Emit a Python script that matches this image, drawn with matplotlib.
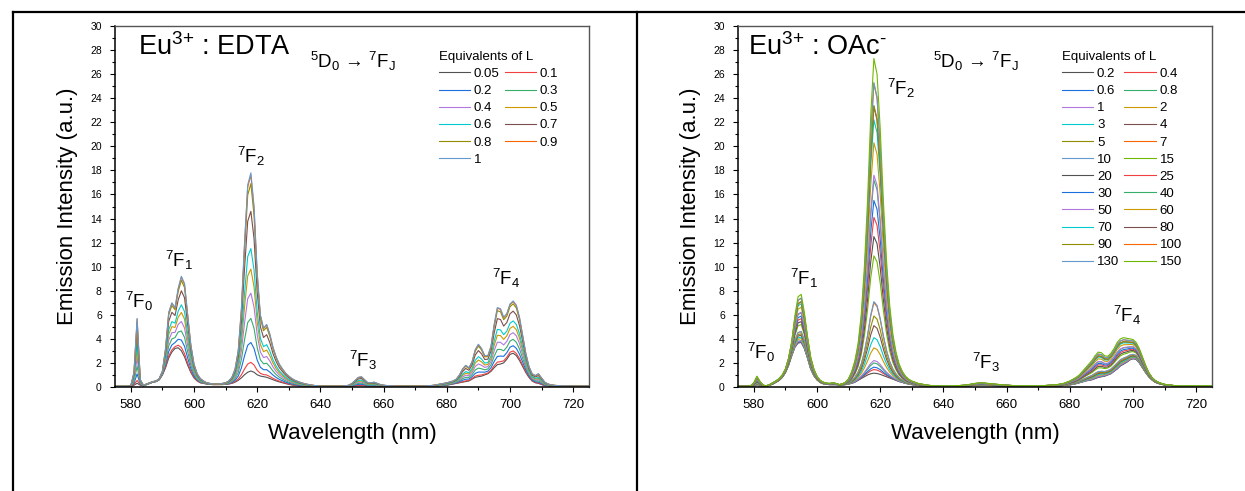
import numpy as np
import matplotlib
matplotlib.use("Agg")
from matplotlib import pyplot as plt
from matplotlib.lines import Line2D
from matplotlib.ticker import MultipleLocator

plt.rcParams.update({
    "font.family": ["Liberation Sans", "DejaVu Sans"],
    "mathtext.fontset": "custom",
    "mathtext.rm": "Liberation Sans",
    "mathtext.it": "Liberation Sans:italic",
    "mathtext.bf": "Liberation Sans:bold",
})

# Origin "Bright" palette, cycled over the series
colors = ["#515151", "#F14040", "#1A6FDF", "#37AD6B", "#B177DE", "#CC9900",
          "#00CBCC", "#7D4E4E", "#8E8E00", "#FB6501", "#6699CC", "#6FB802"]

wavelength = np.arange(575, 726)  # nm, 1 nm step

# ---- Eu3+ : EDTA, spectra of lowest (0.05 eq) and highest (1 eq) titration points
edta_low = [
    0.05, 0.05, 0.05, 0.05, 0.05, 0.05, 0.15, 0.30, 0.15, 0.10,
    0.20, 0.30, 0.40, 0.45, 0.60, 1.00, 1.60, 2.40, 2.90, 3.20,
    3.25, 3.00, 2.50, 1.80, 1.20, 0.75, 0.50, 0.35, 0.30, 0.25,
    0.22, 0.20, 0.20, 0.20, 0.20, 0.22, 0.25, 0.30, 0.40, 0.55,
    0.75, 1.00, 1.20, 1.30, 1.20, 1.00, 0.90, 0.85, 0.80, 0.70,
    0.60, 0.50, 0.42, 0.35, 0.28, 0.22, 0.17, 0.13, 0.10, 0.08,
    0.06, 0.05, 0.05, 0.05, 0.05, 0.05, 0.05, 0.05, 0.05, 0.05,
    0.05, 0.05, 0.05, 0.05, 0.06, 0.08, 0.10, 0.12, 0.12, 0.10,
    0.08, 0.08, 0.08, 0.07, 0.06, 0.05, 0.05, 0.05, 0.05, 0.05,
    0.05, 0.05, 0.05, 0.05, 0.05, 0.05, 0.05, 0.05, 0.05, 0.05,
    0.06, 0.07, 0.08, 0.10, 0.12, 0.15, 0.20, 0.25, 0.30, 0.35,
    0.40, 0.45, 0.50, 0.65, 0.80, 0.85, 0.90, 1.00, 1.10, 1.30,
    1.60, 1.85, 1.90, 2.00, 2.30, 2.70, 2.80, 2.60, 2.20, 1.70,
    1.20, 0.80, 0.50, 0.35, 0.30, 0.20, 0.12, 0.10, 0.08, 0.07,
    0.06, 0.06, 0.06, 0.06, 0.06, 0.06, 0.06, 0.06, 0.06, 0.06, 0.06,
]
edta_high = [
    0.05, 0.05, 0.05, 0.05, 0.05, 0.10, 1.20, 5.70, 0.60, 0.15,
    0.25, 0.35, 0.45, 0.50, 0.70, 1.30, 3.20, 6.20, 7.00, 6.60,
    8.20, 9.20, 8.60, 6.00, 3.50, 1.90, 1.10, 0.70, 0.50, 0.35,
    0.30, 0.25, 0.25, 0.25, 0.30, 0.35, 0.50, 0.80, 1.50, 3.00,
    6.50, 12.00, 16.80, 17.80, 15.00, 9.50, 6.00, 4.90, 5.20, 4.40,
    3.30, 2.50, 1.90, 1.50, 1.15, 0.90, 0.70, 0.55, 0.45, 0.35,
    0.28, 0.22, 0.17, 0.13, 0.10, 0.08, 0.07, 0.06, 0.06, 0.06,
    0.06, 0.07, 0.08, 0.10, 0.15, 0.30, 0.55, 0.80, 0.85, 0.60,
    0.35, 0.35, 0.40, 0.30, 0.20, 0.15, 0.12, 0.10, 0.09, 0.08,
    0.07, 0.07, 0.06, 0.06, 0.06, 0.06, 0.06, 0.07, 0.08, 0.10,
    0.12, 0.15, 0.20, 0.25, 0.30, 0.35, 0.42, 0.50, 0.65, 1.00,
    1.50, 1.80, 1.60, 2.10, 3.10, 3.55, 3.20, 2.60, 2.60, 3.40,
    5.20, 6.60, 6.50, 5.80, 6.10, 6.90, 7.15, 6.80, 5.80, 4.30,
    2.80, 1.70, 1.10, 0.95, 1.10, 0.75, 0.40, 0.25, 0.18, 0.14,
    0.12, 0.10, 0.10, 0.09, 0.09, 0.08, 0.08, 0.08, 0.08, 0.08, 0.08,
]
edta_equiv = ["0.05", "0.1", "0.2", "0.3", "0.4", "0.5", "0.6", "0.7", "0.8", "0.9", "1"]
edta_f2_peak = [1.33, 2.05, 3.7, 5.7, 7.8, 9.8, 11.5, 14.6, 16.9, 17.6, 17.8]

# ---- Eu3+ : OAc-, spectra of lowest (0.2 eq) and highest (150 eq) titration points
oac_low = [
    0.05, 0.05, 0.05, 0.05, 0.05, 0.08, 0.12, 0.10, 0.07, 0.07,
    0.15, 0.25, 0.40, 0.55, 0.80, 1.20, 1.80, 2.60, 3.30, 3.65,
    3.70, 3.20, 2.40, 1.50, 0.95, 0.60, 0.38, 0.27, 0.22, 0.20,
    0.20, 0.20, 0.18, 0.18, 0.20, 0.25, 0.30, 0.40, 0.55, 0.70,
    0.85, 1.00, 1.10, 1.15, 1.12, 1.05, 0.95, 0.85, 0.75, 0.65,
    0.55, 0.45, 0.38, 0.30, 0.25, 0.20, 0.16, 0.13, 0.11, 0.10,
    0.08, 0.08, 0.08, 0.08, 0.08, 0.08, 0.08, 0.08, 0.08, 0.08,
    0.08, 0.08, 0.09, 0.10, 0.12, 0.15, 0.17, 0.18, 0.17, 0.15,
    0.13, 0.12, 0.11, 0.10, 0.09, 0.08, 0.08, 0.08, 0.08, 0.08,
    0.08, 0.08, 0.08, 0.08, 0.08, 0.08, 0.08, 0.08, 0.08, 0.08,
    0.08, 0.09, 0.10, 0.12, 0.15, 0.18, 0.22, 0.28, 0.35, 0.42,
    0.50, 0.55, 0.60, 0.70, 0.80, 0.85, 0.90, 1.00, 1.10, 1.30,
    1.50, 1.75, 1.90, 2.05, 2.25, 2.35, 2.30, 2.00, 1.60, 1.20,
    0.85, 0.60, 0.40, 0.30, 0.22, 0.18, 0.15, 0.12, 0.10, 0.10,
    0.08, 0.08, 0.08, 0.08, 0.08, 0.08, 0.08, 0.08, 0.08, 0.08, 0.08,
]
oac_high = [
    0.05, 0.05, 0.05, 0.05, 0.10, 0.35, 0.90, 0.45, 0.15, 0.10,
    0.20, 0.35, 0.50, 0.70, 1.00, 1.50, 2.40, 3.80, 5.90, 7.50,
    7.70, 6.20, 4.20, 2.50, 1.50, 0.90, 0.55, 0.40, 0.32, 0.30,
    0.35, 0.30, 0.20, 0.25, 0.40, 0.70, 1.30, 2.20, 3.60, 6.00,
    10.00, 15.50, 22.50, 27.30, 26.00, 21.50, 15.50, 10.50, 6.80, 4.40,
    2.90, 1.90, 1.30, 0.90, 0.65, 0.50, 0.40, 0.30, 0.25, 0.20,
    0.15, 0.12, 0.10, 0.10, 0.10, 0.10, 0.10, 0.10, 0.10, 0.12,
    0.12, 0.14, 0.16, 0.20, 0.25, 0.30, 0.33, 0.35, 0.33, 0.30,
    0.28, 0.25, 0.22, 0.20, 0.18, 0.15, 0.13, 0.12, 0.10, 0.10,
    0.10, 0.10, 0.10, 0.10, 0.10, 0.10, 0.10, 0.12, 0.14, 0.16,
    0.18, 0.20, 0.25, 0.30, 0.40, 0.50, 0.65, 0.80, 1.00, 1.30,
    1.60, 1.90, 2.20, 2.60, 2.90, 2.85, 2.60, 2.55, 2.80, 3.20,
    3.70, 4.00, 4.10, 4.05, 4.00, 3.95, 3.70, 3.20, 2.50, 1.80,
    1.20, 0.80, 0.55, 0.40, 0.30, 0.22, 0.18, 0.15, 0.12, 0.10,
    0.10, 0.10, 0.10, 0.10, 0.10, 0.10, 0.10, 0.10, 0.10, 0.10, 0.10,
]
oac_equiv = ["0.2", "0.4", "0.6", "0.8", "1", "2", "3", "4", "5", "7", "10", "15",
             "20", "25", "30", "40", "50", "60", "70", "80", "90", "100", "130", "150"]
oac_f2_peak = [1.15, 1.45, 1.65, 2.0, 2.2, 3.25, 4.1, 5.1, 5.9, 7.0, 7.1, 10.9,
               12.5, 14.1, 15.5, 17.2, 17.6, 20.3, 22.2, 23.3, 23.4, 25.2, 25.3, 27.3]

band_labels = ["0", "1", "2", "3", "4"]
edta_label_pos = [(578.2, 6.6), (590.8, 10.0), (613.6, 18.6), (649.0, 1.65), (694.3, 8.5)]
oac_label_pos = [(577.7, 2.35), (591.3, 8.45), (622.3, 24.3), (649.2, 1.5), (693.7, 5.4)]


def draw_panel(ax, low, high, equiv, f2_peak, title, label_pos, leg_anchor):
    low = np.array(low)
    high = np.array(high)
    i618 = np.argmax(high)
    lines = []
    for k, (eq, h) in enumerate(zip(equiv, f2_peak)):
        # mix of the two limiting spectra, weighted by the 7F2 peak
        w = (h - low[i618]) / (high[i618] - low[i618])
        y = low * (1 - w) + high * w
        ln, = ax.plot(wavelength, y, color=colors[k % len(colors)], lw=0.8, label=eq)
        lines.append(ln)

    ax.set_xlim(575, 725)
    ax.set_ylim(0, 30)
    ax.xaxis.set_major_locator(MultipleLocator(20))
    ax.xaxis.set_minor_locator(MultipleLocator(10))
    ax.yaxis.set_major_locator(MultipleLocator(2))
    ax.yaxis.set_minor_locator(MultipleLocator(1))
    ax.tick_params(which="both", direction="out", top=False, right=False)
    ax.tick_params(which="major", length=3.5, width=0.8)
    ax.tick_params(which="minor", length=2, width=0.8)
    ax.tick_params(axis="x", which="major", labelsize=9.5, pad=5)
    ax.tick_params(axis="y", which="major", labelsize=7.5, pad=6)
    for s in ("left", "bottom"):
        ax.spines[s].set_linewidth(1.1)
        ax.spines[s].set_color("black")
    for s in ("top", "right"):
        ax.spines[s].set_linewidth(1.0)
        ax.spines[s].set_color("#555555")

    ax.set_xlabel("Wavelength (nm)", fontsize=16, labelpad=9)
    ax.set_ylabel("Emission Intensity (a.u.)", fontsize=16, labelpad=9)

    ax.text(title[1], 27.6, title[0], fontsize=19.5, ha="left", va="baseline")
    ax.text(636.7, 26.5, r"$^{5}$D$_{0}$ → $^{7}$F$_{\mathrm{J}}$", fontsize=13.5,
            ha="left", va="baseline")
    for lab, (x, y) in zip(band_labels, label_pos):
        ax.text(x, y, r"$^{7}$F$_{%s}$" % lab, fontsize=13.5, ha="left", va="baseline")

    # legend filled row by row, as in the original
    order = list(range(0, len(lines), 2)) + list(range(1, len(lines), 2))
    ax.legend(handles=[lines[i] for i in order], ncol=2, title="Equivalents of L",
              frameon=False, fontsize=9.5, title_fontsize=9.5, loc="upper left",
              bbox_to_anchor=leg_anchor, bbox_transform=fig.transFigure,
              borderpad=0, borderaxespad=0, handlelength=2.35, handletextpad=0.3,
              columnspacing=0.4, labelspacing=0.37, alignment="left")


fig = plt.figure(figsize=(12.45, 4.91), dpi=100)
W, H = 1245.0, 491.0
ax1 = fig.add_axes([115 / W, 1 - 387 / H, 474 / W, 361 / H])
ax2 = fig.add_axes([738 / W, 1 - 387 / H, 474 / W, 361 / H])

draw_panel(ax1, edta_low, edta_high, edta_equiv, edta_f2_peak,
           (r"Eu$^{\text{3+}}$ : EDTA", 582.3), edta_label_pos, (439 / W, 1 - 51 / H))
draw_panel(ax2, oac_low, oac_high, oac_equiv, oac_f2_peak,
           (r"Eu$^{\text{3+}}$ : OAc$^{\text{-}}$", 578.2), oac_label_pos, (1062 / W, 1 - 51 / H))

# table-like frame around the two panels
fig.add_artist(Line2D([13 / W, 1], [1 - 12 / H, 1 - 12 / H], color="black", lw=1.6))
fig.add_artist(Line2D([13 / W, 13 / W], [0, 1 - 12 / H], color="black", lw=1.6))
fig.add_artist(Line2D([637 / W, 637 / W], [0, 1 - 12 / H], color="black", lw=1.6))

fig.savefig("out.png", dpi=100)
